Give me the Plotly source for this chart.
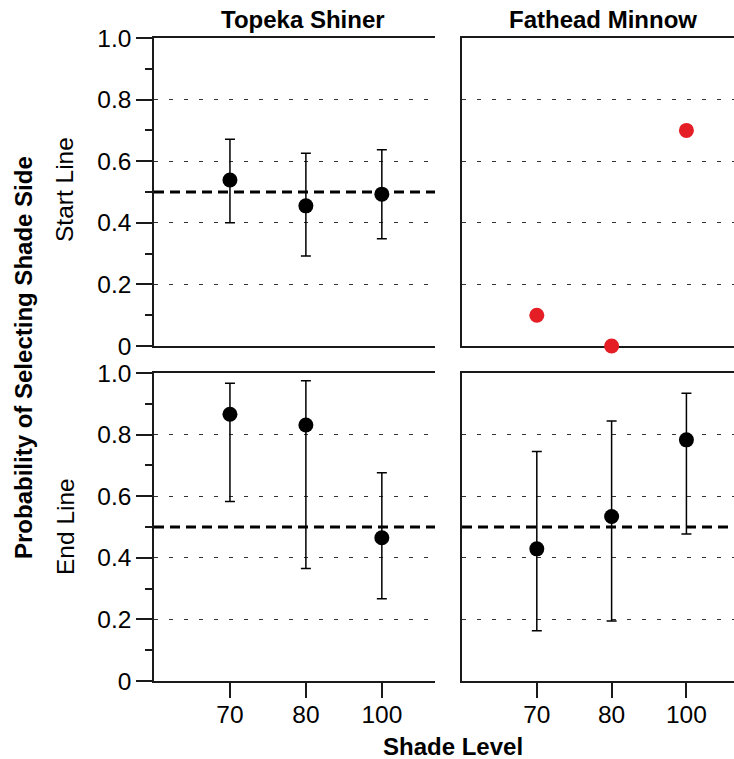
import plotly.graph_objects as go

# Shade levels tested (categorical x axis)
SHADE_LEVELS = ["70", "80", "100"]

# Start line – Topeka Shiner: estimate with lower/upper interval bounds
TOPEKA_START_MEAN = [0.539, 0.455, 0.493]
TOPEKA_START_LO = [0.400, 0.292, 0.348]
TOPEKA_START_HI = [0.671, 0.626, 0.637]

# Start line – Fathead Minnow: observed proportions only
FATHEAD_START_OBS = [0.10, 0.0, 0.70]

# End line – Topeka Shiner
TOPEKA_END_MEAN = [0.866, 0.831, 0.465]
TOPEKA_END_LO = [0.583, 0.365, 0.267]
TOPEKA_END_HI = [0.967, 0.975, 0.676]

# End line – Fathead Minnow
FATHEAD_END_MEAN = [0.429, 0.534, 0.783]
FATHEAD_END_LO = [0.163, 0.195, 0.477]
FATHEAD_END_HI = [0.745, 0.844, 0.934]

# No-preference reference probability
CHANCE = 0.5

Y_TICKS = [0, 0.2, 0.4, 0.6, 0.8, 1.0]
Y_TICK_TEXT = ["0", "0.2", "0.4", "0.6", "0.8", "1.0"]
Y_MINOR = [0.1, 0.3, 0.5, 0.7, 0.9]

FONT = "Arial, Liberation Sans, Helvetica, sans-serif"
AXIS_COLOR = "#1a1a1a"
W, H = 734, 759

# Panel boxes in pixels (left, right, top, bottom)
COL_L = (154, 435)
COL_R = (462, 734)
ROW_T = (38, 346)
ROW_B = (373, 681)


def xdom(c):
    return [c[0] / W, c[1] / W]


def ydom(r):
    return [1 - r[1] / H, 1 - r[0] / H]


def ci_trace(mean, lo, hi, xa, ya):
    return go.Scatter(
        x=SHADE_LEVELS, y=mean, xaxis=xa, yaxis=ya, mode="markers",
        marker=dict(color="black", size=15),
        error_y=dict(
            type="data", symmetric=False,
            array=[h - m for h, m in zip(hi, mean)],
            arrayminus=[m - l for m, l in zip(mean, lo)],
            color="black", thickness=1.5, width=5,
        ),
        showlegend=False, hoverinfo="x+y",
    )


fig = go.Figure()
fig.add_trace(ci_trace(TOPEKA_START_MEAN, TOPEKA_START_LO, TOPEKA_START_HI, "x", "y"))
fig.add_trace(go.Scatter(
    x=SHADE_LEVELS, y=FATHEAD_START_OBS, xaxis="x2", yaxis="y2", mode="markers",
    marker=dict(color="#e41e24", size=15), cliponaxis=False, showlegend=False,
))
fig.add_trace(ci_trace(TOPEKA_END_MEAN, TOPEKA_END_LO, TOPEKA_END_HI, "x3", "y3"))
fig.add_trace(ci_trace(FATHEAD_END_MEAN, FATHEAD_END_LO, FATHEAD_END_HI, "x4", "y4"))

TICK_SIZE = 24.5


def x_axis(col, rng, anchor, bottom, layer="above traces"):
    return dict(
        domain=xdom(col), anchor=anchor, type="category", automargin=False,
        categoryorder="array", categoryarray=SHADE_LEVELS, range=rng,
        showline=True, mirror=True, linecolor=AXIS_COLOR, linewidth=1.5,
        showgrid=False, zeroline=False, layer=layer,
        ticks="outside" if bottom else "", ticklen=15, tickwidth=1.5,
        tickcolor=AXIS_COLOR, showticklabels=bottom, ticklabelstandoff=-4,
        tickfont=dict(family=FONT, size=TICK_SIZE, color="black"),
    )


def y_axis(row, anchor, labelled):
    d = dict(
        domain=ydom(row), anchor=anchor, range=[0, 1], automargin=False,
        showline=True, mirror=False, linecolor=AXIS_COLOR, linewidth=1.5,
        zeroline=False, tickvals=Y_TICKS, ticktext=Y_TICK_TEXT,
        showgrid=True, gridcolor="#333333", gridwidth=1, griddash="4px,11px",
        showticklabels=labelled,
        tickfont=dict(family=FONT, size=TICK_SIZE, color="black"),
    )
    if labelled:
        d.update(ticks="outside", ticklen=16, tickwidth=1.5, tickcolor=AXIS_COLOR,
                 minor=dict(tickvals=Y_MINOR, ticks="outside", ticklen=7,
                            tickwidth=1.5, tickcolor=AXIS_COLOR, showgrid=False))
    else:
        d.update(ticks="")
    return d


RANGE_L = [-1, 2.7]
RANGE_R = [-1, 2.636]

fig.update_layout(
    width=W, height=H, margin=dict(l=0, r=0, t=0, b=0, pad=0, autoexpand=False),
    paper_bgcolor="white", plot_bgcolor="white",
    font=dict(family=FONT, color="black"),
    xaxis=x_axis(COL_L, RANGE_L, "y", False),
    xaxis2=x_axis(COL_R, RANGE_R, "y2", False, layer="below traces"),
    xaxis3=x_axis(COL_L, RANGE_L, "y3", True),
    xaxis4=x_axis(COL_R, RANGE_R, "y4", True),
    yaxis=y_axis(ROW_T, "x", True),
    yaxis2=y_axis(ROW_T, "x2", False),
    yaxis3=y_axis(ROW_B, "x3", True),
    yaxis4=y_axis(ROW_B, "x4", False),
)

# Chance reference line in the panels with interval estimates
for xa, ya in [("x", "y"), ("x3", "y3"), ("x4", "y4")]:
    fig.add_shape(type="line", xref=f"{xa} domain", yref=ya, x0=0, x1=1,
                  y0=CHANCE, y1=CHANCE, layer="below",
                  line=dict(color="black", width=3, dash="10px,6px"))

ann = []
bold = dict(family=FONT, size=24, color="black")
reg = dict(family=FONT, size=TICK_SIZE, color="black")
ann.append(dict(text="<b>Topeka Shiner</b>", x=303 / W, y=1 - 20 / H, font=bold))
ann.append(dict(text="<b>Fathead Minnow</b>", x=603 / W, y=1 - 20 / H, font=bold))
ann.append(dict(text="<b>Shade Level</b>", x=453 / W, y=1 - 746 / H, font=bold))
ann.append(dict(text="<b>Probability of Selecting Shade Side</b>", x=23 / W,
                y=1 - 358 / H, textangle=-90, font=bold))
ann.append(dict(text="Start Line", x=65 / W, y=1 - 190 / H, textangle=-90, font=reg))
ann.append(dict(text="End Line", x=65 / W, y=1 - 527 / H, textangle=-90, font=reg))
for a in ann:
    a.update(xref="paper", yref="paper", showarrow=False,
             xanchor="center", yanchor="middle")
fig.update_layout(annotations=ann)

fig.write_html("out.html")
